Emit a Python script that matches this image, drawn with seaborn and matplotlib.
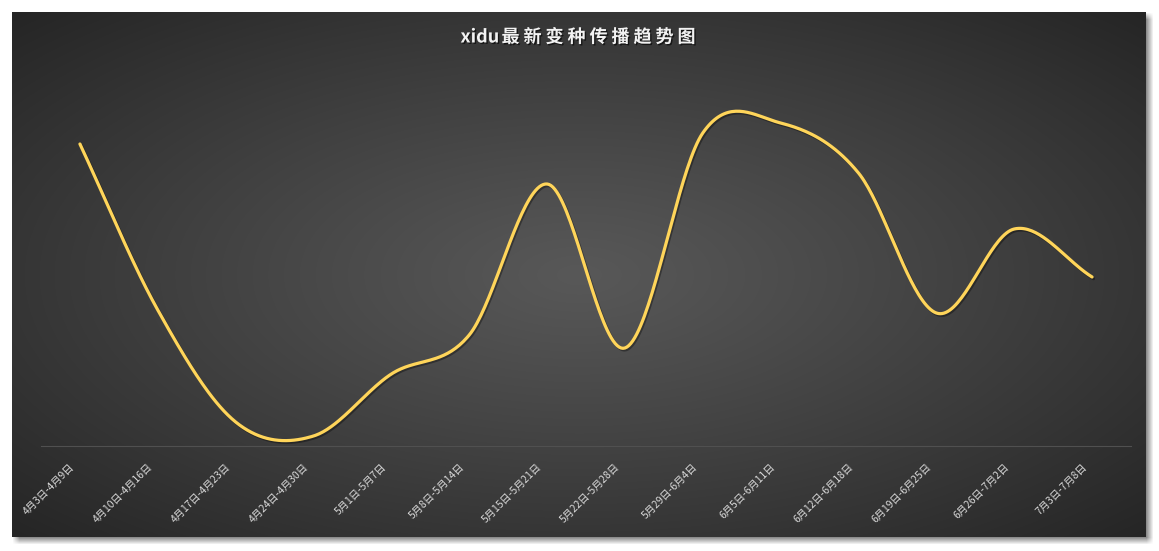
import numpy as np
import matplotlib
matplotlib.use("Agg")
import matplotlib.pyplot as plt
import matplotlib.patheffects as pe
from matplotlib.transforms import ScaledTranslation
import seaborn as sns

# ---- data ----
weeks = ["4月3日-4月9日", "4月10日-4月16日", "4月17日-4月23日", "4月24日-4月30日",
         "5月1日-5月7日", "5月8日-5月14日", "5月15日-5月21日", "5月22日-5月28日",
         "5月29日-6月4日", "6月5日-6月11日", "6月12日-6月18日", "6月19日-6月25日",
         "6月26日-7月2日", "7月3日-7月8日"]
cases = [302, 136, 24, 10, 72, 111, 262, 98, 313, 323, 273, 133, 217, 169]
title_latin = "xidu"
title_cjk = "最新变种传播趋势图"


def smooth(vals, steps=40):
    """Catmull-Rom style smoothing, like a smoothed Excel line"""
    y = np.asarray(vals, dtype=float)
    n = len(y)
    m = np.empty(n)
    m[1:-1] = (y[2:] - y[:-2]) / 2
    m[0] = y[1] - y[0]
    m[-1] = y[-1] - y[-2]
    xs, ys = [], []
    t = np.linspace(0, 1, steps, endpoint=False)
    h00 = 2 * t**3 - 3 * t**2 + 1
    h10 = t**3 - 2 * t**2 + t
    h01 = -2 * t**3 + 3 * t**2
    h11 = t**3 - t**2
    for i in range(n - 1):
        xs.append(i + t)
        ys.append(h00 * y[i] + h10 * m[i] + h01 * y[i + 1] + h11 * m[i + 1])
    xs.append([n - 1])
    ys.append([y[-1]])
    return np.concatenate(xs), np.concatenate(ys)


sns.set_theme(style="dark")
plt.rcParams['font.family'] = ['Noto Sans CJK SC', 'DejaVu Sans']

W, H = 1159, 551
fig = plt.figure(figsize=(W / 100, H / 100), dpi=100, facecolor="white")


def fr(x0, y0, x1, y1):
    return [x0 / W, 1 - y1 / H, (x1 - x0) / W, (y1 - y0) / H]


# ---- background: white page, soft shadow, radial gradient panel ----
px0, py0, px1, py1 = 12, 12, 1146, 537
img = np.ones((H, W))
mask = np.zeros((H, W))
mask[py0 + 4:py1 + 4, px0 + 4:px1 + 4] = 1.0
k = np.ones(7) / 7
mask = np.apply_along_axis(lambda r: np.convolve(r, k, mode="same"), 1, mask)
mask = np.apply_along_axis(lambda c: np.convolve(c, k, mode="same"), 0, mask)
img = img - 0.45 * mask
yy, xx = np.mgrid[py0:py1, px0:px1]
cx, cy = (px0 + px1) / 2, (py0 + py1) / 2
r = np.sqrt(((xx - cx) / ((px1 - px0) / 2)) ** 2 + ((yy - cy) / ((py1 - py0) / 2)) ** 2) / np.sqrt(2)
r = np.clip(r, 0, 1)
c_mid, c_edge = 0x58 / 255, 0x25 / 255
img[py0:py1, px0:px1] = c_mid + (c_edge - c_mid) * r ** 1.1
bg = fig.add_axes([0, 0, 1, 1])
bg.imshow(np.dstack([img] * 3), extent=(0, W, H, 0), aspect="auto", interpolation="nearest")
bg.set_axis_off()

# ---- main chart ----
ax = fig.add_axes(fr(41, 60, 1131, 446))
ax.set_facecolor("none")
sx, sy = smooth(cases)
sns.lineplot(x=sx, y=sy, ax=ax, color="#FFD55A", linewidth=2.3, sort=False)
ln = ax.lines[0]
ln.set_solid_capstyle("round")
ln.set_path_effects([pe.SimpleLineShadow(offset=(1.0, -1.2), shadow_color="black", alpha=0.35),
                     pe.Normal()])
ax.set_xlim(-0.5, len(cases) - 0.5)
ax.set_ylim(0, 386)
ax.grid(False)
ax.set_yticks([])
ax.set_xlabel("")
ax.set_ylabel("")
for s in ["left", "top", "right"]:
    ax.spines[s].set_visible(False)
ax.spines["bottom"].set_color("#505050")
ax.spines["bottom"].set_linewidth(0.8)
ax.set_xticks(range(len(weeks)))
ax.set_xticklabels(weeks, rotation=45, ha="right", va="center", rotation_mode="anchor",
                   color="#dadada", fontsize=7.4)
ax.tick_params(axis="x", length=0, pad=14)
shift = ScaledTranslation(-7 / 100, 0, fig.dpi_scale_trans)
for lab in ax.get_xticklabels():
    lab.set_transform(lab.get_transform() + shift)

# ---- title with Excel-like character spacing ----
renderer = fig.canvas.get_renderer()
tsize = 13
shadow = [pe.withSimplePatchShadow(offset=(1, -1), shadow_rgbFace="black", alpha=0.6)]
pieces = [title_latin] + list(title_cjk)
gaps = [2] + [4] * (len(pieces) - 2) + [0]
widths = []
for p in pieces:
    t = fig.text(0, 0, p, fontsize=tsize, fontweight="bold")
    widths.append(t.get_window_extent(renderer).width)
    t.remove()
total = sum(widths) + sum(gaps)
x = 578 - total / 2
for p, w, g in zip(pieces, widths, gaps):
    fig.text(x / W, 1 - 37 / H, p, fontsize=tsize, fontweight="bold", color="#f2f2f2",
             va="center", ha="left", path_effects=shadow)
    x += w + g

fig.savefig("out.png", dpi=100, facecolor="white")
